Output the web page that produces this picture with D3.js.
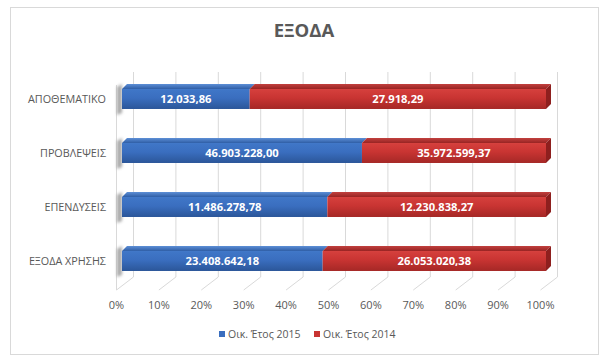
<!DOCTYPE html>
<html><head><meta charset="utf-8">
<script src="https://cdn.jsdelivr.net/npm/d3@7"></script>
<style>body{margin:0;background:#fff}svg{display:block}</style>
</head><body>
<svg id="c" width="610" height="359"></svg>
<script>
const categories = ["ΑΠΟΘΕΜΑΤΙΚΟ","ΠΡΟΒΛΕΨΕΙΣ","ΕΠΕΝΔΥΣΕΙΣ","ΕΞΟΔΑ ΧΡΗΣΗΣ"];
const seriesNames = ["Οικ. Έτος 2015","Οικ. Έτος 2014"];
const values2015 = [12033.86, 46903228.00, 11486278.78, 23408642.18];
const values2014 = [27918.29, 35972599.37, 12230838.27, 26053020.38];
const tickValues = [0,0.1,0.2,0.3,0.4,0.5,0.6,0.7,0.8,0.9,1];
const title = "ΕΞΟΔΑ";

const svg = d3.select("#c");
const font = "'Open Sans', 'Noto Sans', sans-serif";
const loc = d3.formatLocale({decimal:",", thousands:".", grouping:[3], currency:["","€"]});
const fmt = loc.format(",.2f");
const pct = d3.format(".0%");

// frame
svg.append("rect").attr("x",10.5).attr("y",7.5).attr("width",588).attr("height",347)
  .attr("fill","#fff").attr("stroke","#d9d9d9");

svg.append("text").attr("x",304).attr("y",37).attr("text-anchor","middle")
  .attr("font-family",font).attr("font-weight","bold").attr("font-size",18.5).attr("fill","#595959").text(title);

const xFront = d3.scaleLinear().domain([0,1]).range([116.5,540.5]);
const xBack = d3.scaleLinear().domain([0,1]).range([133.5,557.5]);
const xBar = d3.scaleLinear().domain([0,1]).range([122,546]);
const y = d3.scaleBand().domain(categories).range([72,288]).paddingInner(0.63).paddingOuter(0.315);
const backTop = 72, backBottom = 277, floorFront = 290;

const defs = svg.append("defs");
function grad(id, stops){
  const g = defs.append("linearGradient").attr("id",id).attr("x1",0).attr("y1",0).attr("x2",0).attr("y2",1);
  stops.forEach(s=>g.append("stop").attr("offset",s[0]).attr("stop-color",s[1]));
}
grad("gBlue",[[0,"#4077c8"],[0.45,"#3a6ebf"],[1,"#2b5699"]]);
grad("gRed",[[0,"#d6403d"],[0.45,"#c83432"],[1,"#a52826"]]);
grad("gBlueTop",[[0,"#5d8fd6"],[1,"#2f5ea6"]]);
grad("gRedTop",[[0,"#c2403e"],[1,"#982423"]]);
const blur = defs.append("filter").attr("id","blur").attr("x","-80%").attr("y","-50%").attr("width","260%").attr("height","200%");
blur.append("feGaussianBlur").attr("stdDeviation",1.8);

// grid: back lines and floor diagonals
const grid = svg.append("g").attr("stroke","#d9d9d9").attr("fill","none");
grid.selectAll("line.back").data(tickValues).join("line")
  .attr("x1",d=>xBack(d)).attr("x2",d=>xBack(d)).attr("y1",backTop).attr("y2",backBottom);
grid.selectAll("line.floor").data(tickValues).join("line")
  .attr("x1",d=>xBack(d)).attr("x2",d=>xFront(d)).attr("y1",backBottom).attr("y2",floorFront);
grid.append("line").attr("x1",xFront(0)).attr("x2",xFront(0)).attr("y1",backTop+13).attr("y2",floorFront);

// tick labels
svg.append("g").selectAll("text").data(tickValues).join("text")
  .attr("x",d=>xFront(d)).attr("y",309).attr("text-anchor","middle")
  .attr("font-family",font).attr("font-size",11).attr("fill","#595959").text(d=>pct(d));

// category labels
svg.append("g").selectAll("text").data(categories).join("text")
  .attr("x",106).attr("y",d=>y(d)+y.bandwidth()/2+4).attr("text-anchor","end")
  .attr("font-family",font).attr("font-size",10.8).attr("fill","#595959").text(d=>d);

const rows = categories.map((c,i)=>{
  const tot = values2015[i]+values2014[i];
  return {c, segs:[
    {s:0, v:values2015[i], x0:0, x1:values2015[i]/tot},
    {s:1, v:values2014[i], x0:values2015[i]/tot, x1:1}
  ]};
});
const dx = 5, dy = 5;
const bars = svg.append("g");
rows.forEach(r=>{
  const yt = y(r.c), h = y.bandwidth();
  // left wall shadow
  bars.append("path")
    .attr("d",`M${xBar(0)-5},${yt-2} L${xBar(0)},${yt-5} L${xBar(0)},${yt+h+4} L${xBar(0)-5},${yt+h+6} Z`)
    .attr("fill","#8c8c8c").attr("opacity",0.75).attr("filter","url(#blur)");
  r.segs.forEach(s=>{
    const a = xBar(s.x0), b = xBar(s.x1);
    bars.append("path").attr("d",`M${a},${yt} L${a+dx},${yt-dy} L${b+dx},${yt-dy} L${b},${yt} Z`)
      .attr("fill",s.s===0?"url(#gBlueTop)":"url(#gRedTop)");
    bars.append("rect").attr("x",a).attr("y",yt).attr("width",b-a).attr("height",h)
      .attr("fill",s.s===0?"url(#gBlue)":"url(#gRed)");
    bars.append("text").attr("x",(a+b)/2).attr("y",yt+h/2+4).attr("text-anchor","middle")
      .attr("font-family",font).attr("font-weight","bold").attr("font-size",11.2).attr("fill","#fff")
      .text(fmt(s.v));
  });
  const e = xBar(1);
  bars.append("path").attr("d",`M${e},${yt} L${e+dx},${yt-dy} L${e+dx},${yt+h-dy} L${e},${yt+h} Z`)
    .attr("fill","#8e1f1e");
});

// legend
const colors = ["#3a6ebf","#c83432"];
const lg = svg.append("g");
const lx = [219, 314];
seriesNames.forEach((n,i)=>{
  lg.append("rect").attr("x",lx[i]).attr("y",331).attr("width",6).attr("height",6).attr("fill",colors[i]);
  lg.append("text").attr("x",lx[i]+9).attr("y",337.5).attr("font-family",font).attr("font-size",10.5)
    .attr("fill","#595959").text(n);
});
</script>
</body></html>
